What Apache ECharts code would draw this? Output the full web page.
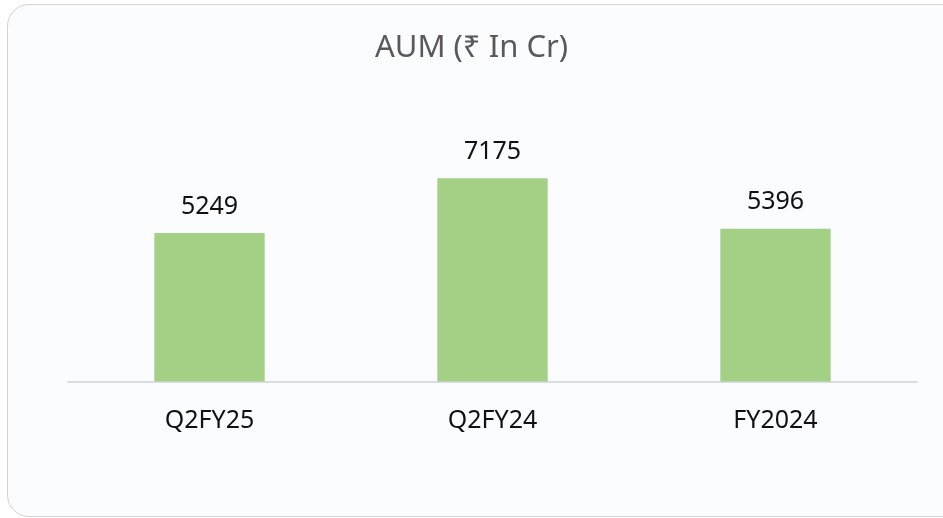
<!DOCTYPE html>
<html>
<head>
<meta charset="utf-8">
<script src="https://cdn.jsdelivr.net/npm/echarts@6/dist/echarts.min.js"></script>
<style>
  html, body { margin: 0; padding: 0; background: #ffffff; overflow: hidden; }
  #box {
    position: absolute; left: 7px; top: 4px; width: 960px; height: 511px;
    border: 1.5px solid #d4d4d4; border-radius: 22px; background: #fbfcfe;
  }
  #chart { position: absolute; left: 0; top: 0; width: 943px; height: 518px; }
</style>
</head>
<body>
<div id="box"></div>
<div id="chart"></div>
<script>
// AUM values (Rs in crore)
var categories = ['Q2FY25', 'Q2FY24', 'FY2024'];
var aumValues = [5249, 7175, 5396];
var chartTitle = 'AUM (₹ In Cr)';

var myChart = echarts.init(document.getElementById('chart'));
var option = {
    backgroundColor: 'transparent',
    title: {
        text: chartTitle,
        left: 'center',
        top: 28,
        textStyle: {
            fontFamily: 'Noto Sans',
            fontSize: 31,
            fontWeight: 'normal',
            color: '#595959'
        }
    },
    grid: {
        left: 68,
        right: 26,
        top: 155,
        bottom: 136.5
    },
    xAxis: {
        type: 'category',
        data: categories,
        axisLine: { lineStyle: { color: '#d9dde3', width: 2 } },
        axisTick: { show: false },
        axisLabel: {
            margin: 27,
            fontFamily: 'Noto Sans',
            fontSize: 25,
            color: '#111111'
        }
    },
    yAxis: {
        type: 'value',
        min: 0,
        max: 8000,
        show: false,
        splitLine: { show: false }
    },
    series: [{
        name: 'AUM',
        type: 'bar',
        data: aumValues,
        barWidth: '39%',
        itemStyle: { color: '#a4d086' },
        label: {
            show: true,
            position: 'top',
            distance: 14,
            fontFamily: 'Noto Sans',
            fontSize: 25,
            color: '#111111'
        }
    }]
};
myChart.setOption(option);
</script>
</body>
</html>
